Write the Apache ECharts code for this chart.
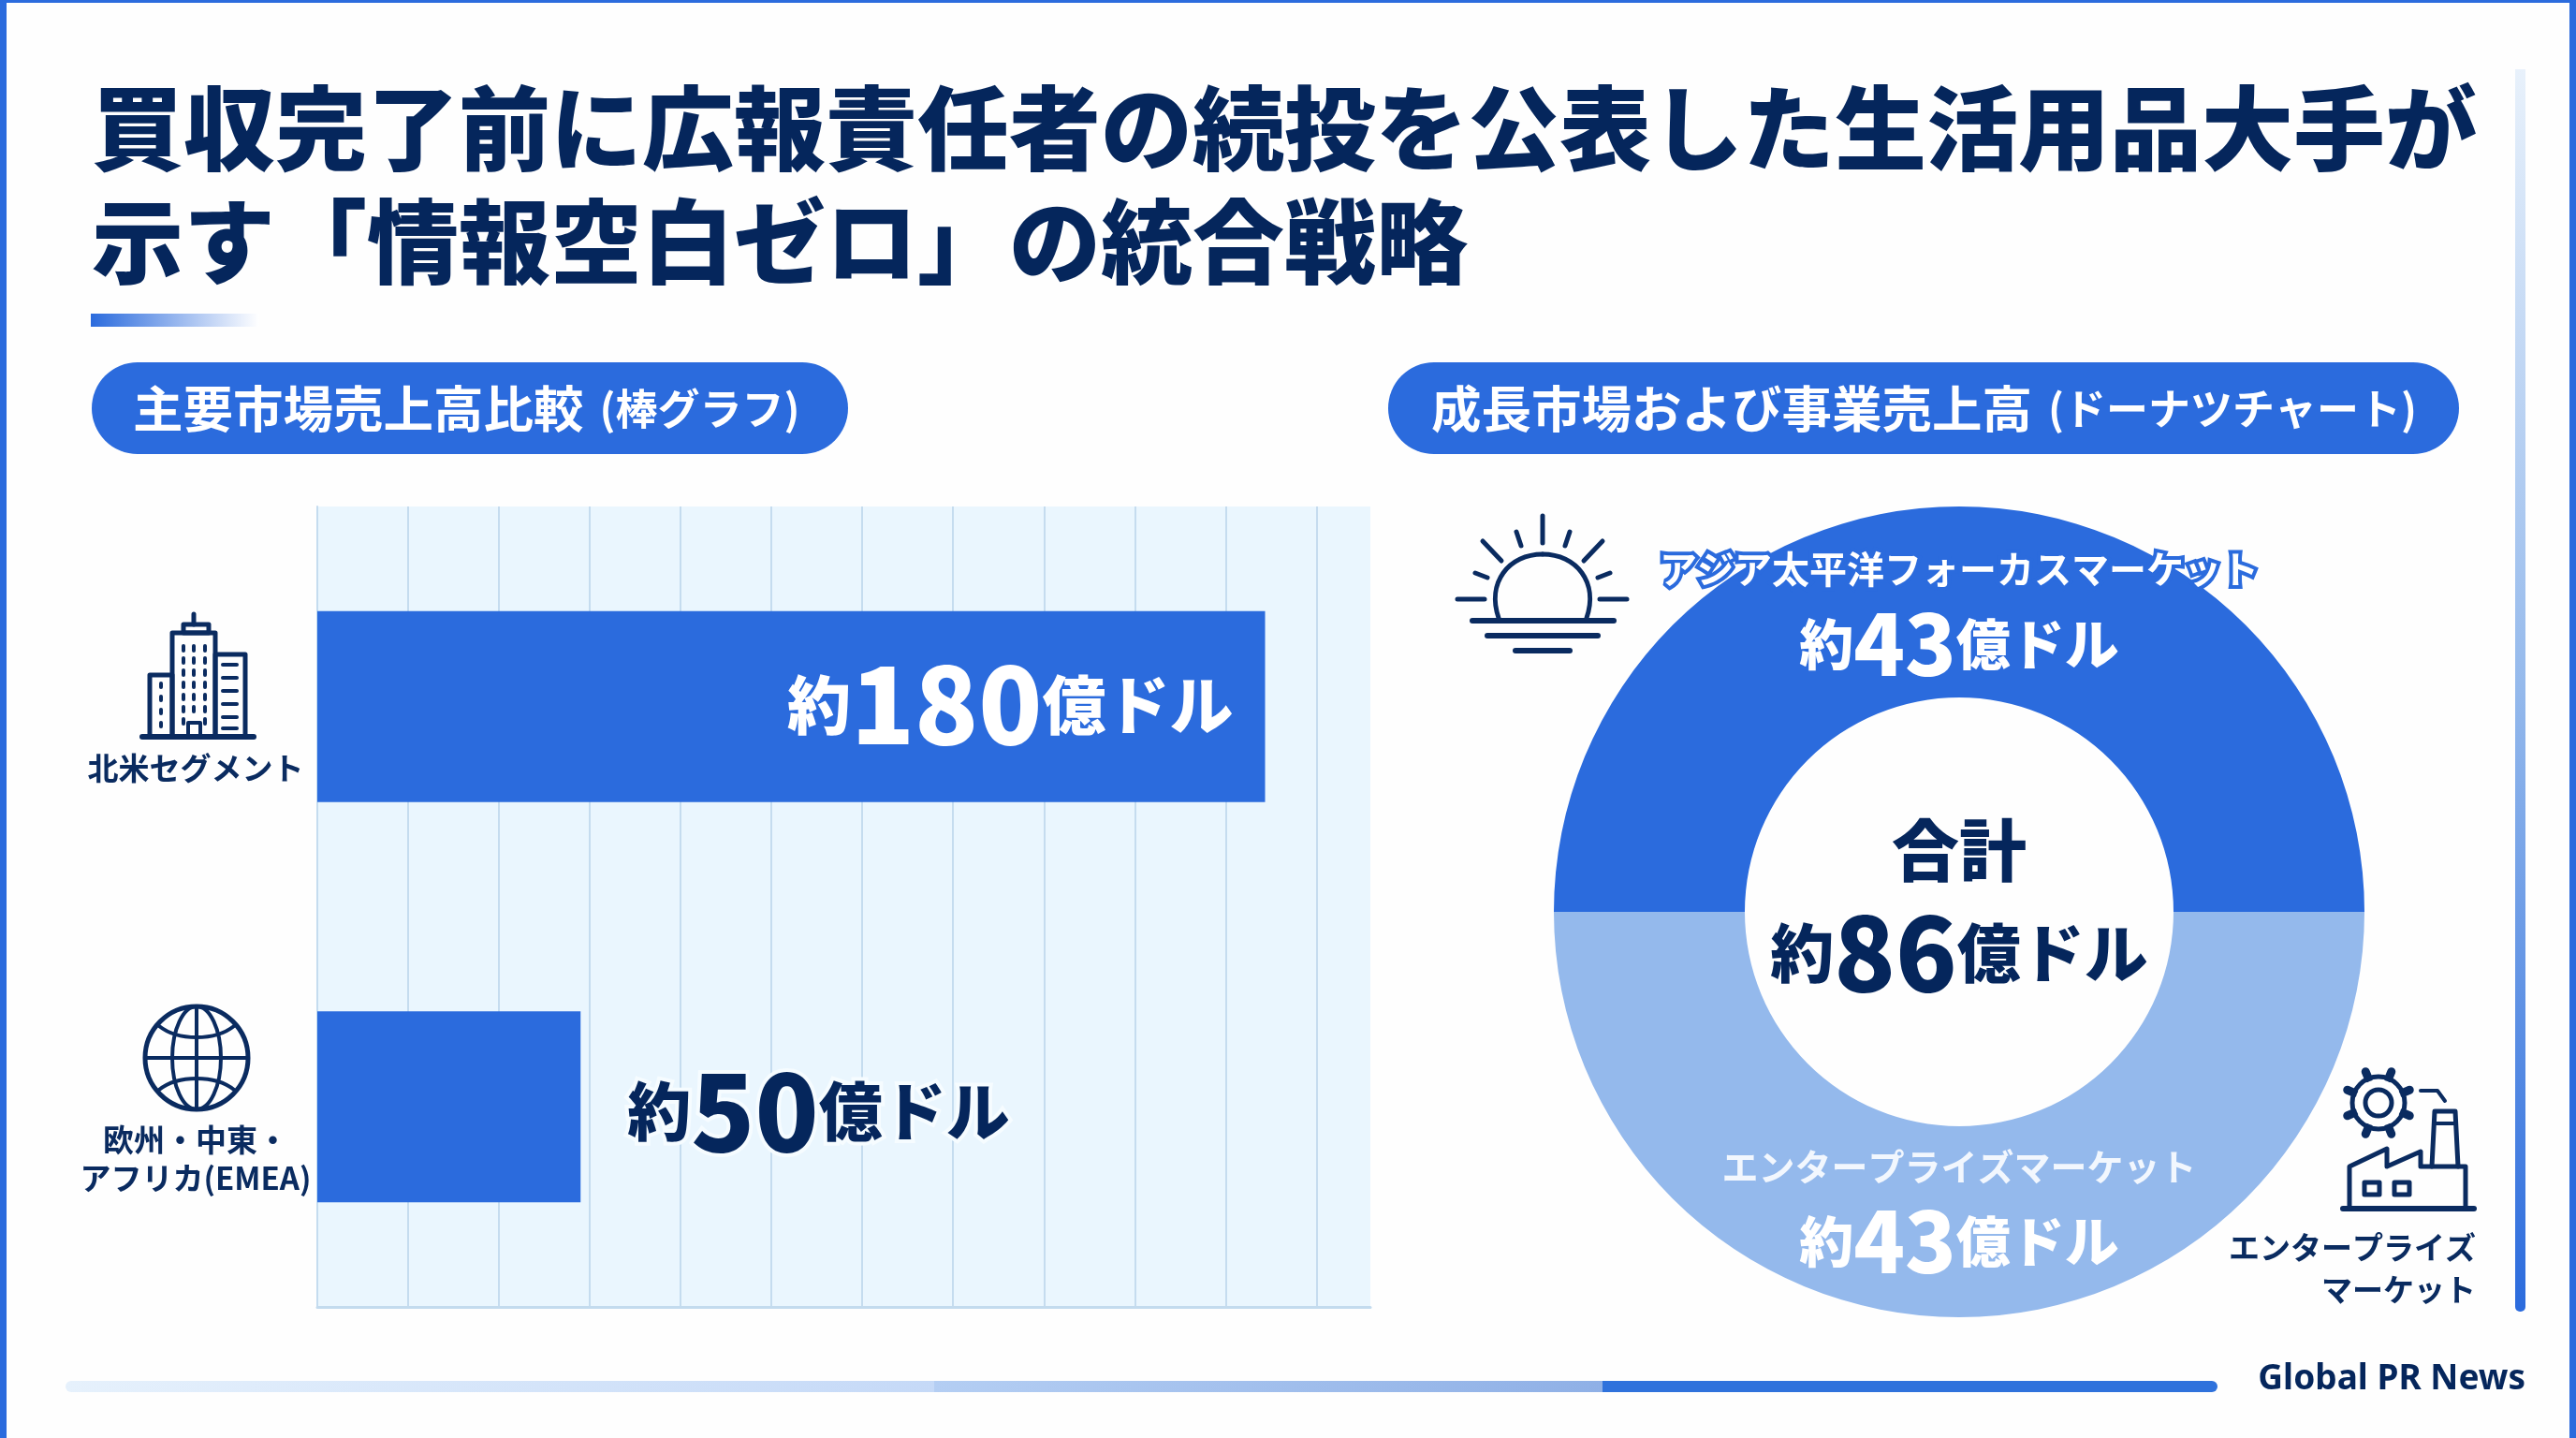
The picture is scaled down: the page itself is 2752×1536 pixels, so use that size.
<!DOCTYPE html>
<html lang="ja">
<head>
<meta charset="utf-8">
<style>html,body{margin:0;padding:0;background:#fefefe}#c{width:2752px;height:1536px}</style>
<script src="https://cdn.jsdelivr.net/npm/echarts@6/dist/echarts.min.js"></script>
</head>
<body>
<div id="c"></div>
<script>
// ---- data ----
const titleText = '買収完了前に広報責任者の続投を公表した生活用品大手が\n示す「情報空白ゼロ」の統合戦略';
const barCategories = ['北米セグメント', '欧州・中東・\nアフリカ(EMEA)'];
const barValues = [180, 50];
const donutNames = ['アジア太平洋フォーカスマーケット', 'エンタープライズマーケット'];
const donutValues = [43, 43];
const totalLabel = '合計';
const donutTotal = 86;
const sourceText = 'Global PR News';

// ---- style ----
const FONT = '"Noto Sans CJK JP","Noto Sans",sans-serif';
const NAVY = '#05265c', BLUE = '#2b6bdd', LIGHT = '#94b9ec', INK = '#0a2b60';
const HEAVY = 900;
const money = v => `{a|約}{b|${v}}{a|億ドル}`;
const moneyRich = (color, small, big, extra) => ({
  a: Object.assign({fontFamily: FONT, fontWeight: HEAVY, fontSize: small, color}, extra),
  b: Object.assign({fontFamily: FONT, fontWeight: HEAVY, fontSize: big, color}, extra)
});
const lg = (stops, horizontal) => ({type: 'linear', x: 0, y: 0, x2: horizontal ? 1 : 0, y2: horizontal ? 0 : 1,
  colorStops: stops.map((c, i) => ({offset: i / (stops.length - 1), color: c}))});

const stroke = (w) => ({stroke: INK, fill: 'none', lineWidth: w || 5, lineCap: 'round', lineJoin: 'round'});
function p(d, w) { return {type: 'polyline', shape: {points: d}, style: stroke(w)}; }

// icons and decoration
const g = [];
// frame
g.push({type: 'rect', shape: {x: 0, y: 0, width: 7, height: 1536}, style: {fill: BLUE}});
g.push({type: 'rect', shape: {x: 2745, y: 0, width: 7, height: 1536}, style: {fill: BLUE}});
g.push({type: 'rect', shape: {x: 0, y: 0, width: 2752, height: 3}, style: {fill: BLUE}});
// title underline
g.push({type: 'rect', shape: {x: 97, y: 335, width: 180, height: 14}, style: {fill: lg([BLUE, '#ffffff'], true)}});
// right rail
g.push({type: 'rect', shape: {x: 2687, y: 74, width: 11, height: 1327, r: [0, 0, 5, 5]}, style: {fill: lg(['#e8f1fb', '#94b9ec', BLUE])}});
// footer rail
g.push({type: 'rect', shape: {x: 70, y: 1475, width: 928, height: 12, r: [6, 0, 0, 6]}, style: {fill: lg(['#e6f1fc', '#c5d9f7'], true)}});
g.push({type: 'rect', shape: {x: 998, y: 1475, width: 714, height: 12}, style: {fill: lg(['#b4cef3', '#8fb0e6'], true)}});
g.push({type: 'rect', shape: {x: 1712, y: 1475, width: 657, height: 12, r: [0, 6, 6, 0]}, style: {fill: '#2f72dc'}});
g.push({type: 'text', style: {x: 2698, y: 1473, text: sourceText, align: 'right', verticalAlign: 'middle', fontFamily: '"Noto Sans",sans-serif', fontWeight: 'bold', fontSize: 37, fill: NAVY}});
// pills
const pill = (x, w) => ({type: 'rect', shape: {x, y: 387, width: w, height: 98, r: 49}, style: {fill: BLUE}});
g.push(pill(98, 808), pill(1483, 1144));
const pillRich = {
  a: {fontFamily: FONT, fontWeight: 'bold', fontSize: 53.5, fill: '#fff', color: '#fff'},
  b: {fontFamily: FONT, fontWeight: 'bold', fontSize: 45, fill: '#fff', color: '#fff', padding: [0, 0, 0, 17]}
};
g.push({type: 'text', style: {x: 142, y: 437, verticalAlign: 'middle', text: '{a|主要市場売上高比較}{b|(棒グラフ)}', rich: pillRich}});
g.push({type: 'text', style: {x: 1529, y: 437, verticalAlign: 'middle', text: '{a|成長市場および事業売上高}{b|(ドーナツチャート)}', rich: pillRich}});

// building icon
const L = (x1, y1, x2, y2, w) => ({type: 'line', shape: {x1, y1, x2, y2}, style: stroke(w)});
const R = (x, y, width, height, w) => ({type: 'rect', shape: {x, y, width, height}, style: stroke(w)});
g.push(L(152, 787, 271, 787, 6), R(184, 676, 46, 111, 5), R(196, 667, 27, 9, 5), L(207, 656, 207, 667, 5),
  R(160, 721, 24, 66, 5), R(230, 699, 32, 88, 5), R(201, 772, 13, 15, 4));
[196, 207, 219].forEach(x => [690, 703, 716, 729, 742, 755].forEach(y => g.push(L(x, y, x, y + 5, 4))));
[196, 219].forEach(x => g.push(L(x, 768, x, 773, 4)));
[710, 724, 738, 752, 766, 778].forEach(y => g.push(L(238, y, 253, y, 4)));
[730, 744, 758, 772].forEach(y => g.push(L(172, y, 172, y + 4, 4)));
// globe icon
g.push({type: 'circle', shape: {cx: 210, cy: 1130, r: 55}, style: stroke(5)});
g.push({type: 'ellipse', shape: {cx: 210, cy: 1130, rx: 26, ry: 55}, style: stroke(4)});
g.push(L(210, 1075, 210, 1185, 4), L(155, 1130, 265, 1130, 4));
g.push({type: 'bezierCurve', shape: {x1: 170, y1: 1096, x2: 250, y2: 1096, cpx1: 190, cpy1: 1112, cpx2: 230, cpy2: 1112}, style: stroke(4)});
g.push({type: 'bezierCurve', shape: {x1: 170, y1: 1164, x2: 250, y2: 1164, cpx1: 190, cpy1: 1148, cpx2: 230, cpy2: 1148}, style: stroke(4)});
// sunrise icon
g.push({type: 'bezierCurve', shape: {x1: 1601, y1: 660, x2: 1648, y2: 592, cpx1: 1588, cpy1: 622, cpx2: 1612, cpy2: 592}, style: stroke(5)});
g.push({type: 'bezierCurve', shape: {x1: 1695, y1: 660, x2: 1648, y2: 592, cpx1: 1708, cpy1: 622, cpx2: 1684, cpy2: 592}, style: stroke(5)});
g.push(L(1573, 663, 1724, 663, 6), L(1589, 679, 1707, 679, 6), L(1619, 695, 1677, 695, 6));
[[1648, 551, 1648, 580], [1620, 568, 1625, 583], [1677, 568, 1672, 583], [1584, 578, 1604, 599], [1712, 578, 1692, 599],
 [1576, 612, 1589, 617], [1720, 612, 1707, 617], [1557, 640, 1586, 640], [1738, 640, 1709, 640]]
  .forEach(a => g.push(L(a[0], a[1], a[2], a[3], 5)));
// factory icon
g.push(L(2503, 1291, 2643, 1291, 6));
g.push(p([[2510, 1291], [2510, 1246], [2550, 1227], [2550, 1246], [2586, 1230], [2586, 1246], [2634, 1246], [2634, 1291]], 5));
g.push(p([[2598, 1246], [2601, 1187], [2623, 1187], [2626, 1246]], 5));
g.push(L(2600, 1200, 2624, 1200, 4));
g.push(R(2526, 1263, 16, 13, 5), R(2558, 1263, 16, 13, 5));
g.push(p([[2586, 1165], [2604, 1165], [2612, 1176]], 4));
g.push({type: 'circle', shape: {cx: 2541, cy: 1178, r: 28}, style: stroke(5)});
for (let i = 0; i < 8; i++) {
  const t = i * Math.PI / 4 + Math.PI / 8;
  g.push(L(2541 + 28 * Math.cos(t), 1178 + 28 * Math.sin(t), 2541 + 36 * Math.cos(t), 1178 + 36 * Math.sin(t), 9));
}
g.push({type: 'circle', shape: {cx: 2541, cy: 1178, r: 25}, style: {fill: '#fff', stroke: 'none'}});
g.push({type: 'circle', shape: {cx: 2541, cy: 1178, r: 14}, style: stroke(5)});
g.push({type: 'text', style: {x: 2645, y: 1332, text: 'エンタープライズ', align: 'right', verticalAlign: 'middle', fontFamily: FONT, fontWeight: 'bold', fontSize: 33, fill: INK}});
g.push({type: 'text', style: {x: 2645, y: 1377, text: 'マーケット', align: 'right', verticalAlign: 'middle', fontFamily: FONT, fontWeight: 'bold', fontSize: 33, fill: INK}});
// donut centre
g.push({type: 'text', style: {x: 2093, y: 908, text: totalLabel, align: 'center', verticalAlign: 'middle', fontFamily: FONT, fontWeight: HEAVY, fontSize: 72, fill: NAVY}});
g.push({type: 'text', style: {x: 2093, y: 1018, text: money(donutTotal), align: 'center', verticalAlign: 'middle',
  rich: {a: {fontFamily: FONT, fontWeight: HEAVY, fontSize: 68, fill: NAVY, color: NAVY}, b: {fontFamily: FONT, fontWeight: HEAVY, fontSize: 108, fill: NAVY, color: NAVY}}}});

const option = {
  animation: false,
  backgroundColor: '#fefefe',
  title: {text: titleText, left: 93, top: 71, textStyle: {fontFamily: FONT, fontWeight: HEAVY, fontSize: 98, lineHeight: 121, color: NAVY}},
  grid: {left: 339, top: 541, width: 1125, height: 855, show: true, backgroundColor: '#eaf6fe', borderWidth: 0, outerBoundsMode: 'none'},
  xAxis: {
    type: 'value', min: 0, max: 200, interval: 17.25,
    axisLabel: {show: false}, axisTick: {show: false},
    axisLine: {show: true, onZero: false, lineStyle: {color: '#c3dbee', width: 3}},
    splitLine: {show: true, showMaxLine: false, lineStyle: {color: '#c5dcef', width: 2}}
  },
  yAxis: {
    type: 'category', inverse: true,
    data: barCategories,
    axisTick: {show: false},
    axisLine: {show: true, lineStyle: {color: '#c5dcef', width: 2}},
    axisLabel: {
      margin: 130, align: 'center', interval: 0,
      formatter: (v, i) => `{s${i}|}\n` + v.split('\n').map(t => `{t|${t}}`).join('\n'),
      rich: {
        s0: {height: 132},
        s1: {height: 112},
        t: {fontFamily: FONT, fontWeight: 'bold', fontSize: 33, lineHeight: 41, color: INK}
      }
    }
  },
  series: [
    {
      type: 'bar', barWidth: 204, itemStyle: {color: BLUE},
      label: {show: true, fontFamily: FONT},
      data: [
        {value: barValues[0], label: {position: 'insideRight', distance: 34, offset: [0, -2], formatter: money(barValues[0]), rich: moneyRich('#fff', 68, 112)}},
        {value: barValues[1], label: {position: 'right', distance: 50, offset: [0, 5], formatter: money(barValues[1]), rich: moneyRich(NAVY, 68, 112, {textBorderColor: '#f6fcff', textBorderWidth: 8})}}
      ]
    },
    {
      type: 'pie', center: [2093, 974], radius: [229, 433], startAngle: 180, clockwise: true, avoidLabelOverlap: false,
      labelLine: {show: false},
      emphasis: {disabled: true},
      label: {show: true, position: 'inside', align: 'center'},
      labelLayout: params => ({dy: params.dataIndex === 0 ? 13 : -17}),
      data: [
        {value: donutValues[0], name: donutNames[0], itemStyle: {color: BLUE},
          label: {formatter: `{n|${donutNames[0]}}\n{a|約}{b|${donutValues[0]}}{a|億ドル}`,
            rich: Object.assign({n: {fontFamily: FONT, fontWeight: 'bold', fontSize: 40, lineHeight: 70, color: '#fff', textBorderColor: BLUE, textBorderWidth: 8}}, moneyRich('#fff', 58, 90))}},
        {value: donutValues[1], name: donutNames[1], itemStyle: {color: LIGHT},
          label: {formatter: `{n|${donutNames[1]}}\n{a|約}{b|${donutValues[1]}}{a|億ドル}`,
            rich: Object.assign({n: {fontFamily: FONT, fontWeight: 'bold', fontSize: 39, lineHeight: 70, color: '#f2f7fe'}}, moneyRich('#fff', 58, 90))}}
      ]
    }
  ],
  graphic: {elements: g}
};
echarts.init(document.getElementById('c')).setOption(option);
</script>
</body>
</html>
